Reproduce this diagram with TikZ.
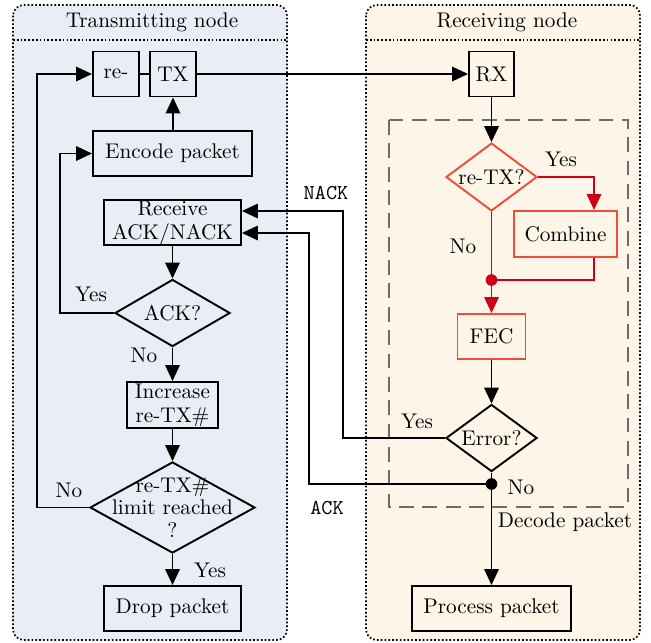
\documentclass[tikz,border=0pt]{standalone}
\usetikzlibrary{shapes.geometric,arrows.meta}
\definecolor{txfill}{RGB}{233,237,246}
\definecolor{rxfill}{RGB}{253,245,232}
\definecolor{redline}{RGB}{208,0,27}
\definecolor{redbox}{RGB}{240,76,56}
\begin{document}
\begin{tikzpicture}[x=0.471pt,y=-0.471pt,
  panel/.style={draw,densely dotted,line width=0.8pt,rounded corners=5pt},
  sep/.style={densely dotted,line width=0.8pt},
  box/.style={draw,line width=0.9pt,rectangle,inner sep=0pt,minimum height=21.2pt},
  rbox/.style={box,draw=redbox},
  dia/.style={draw,line width=0.9pt,diamond,inner sep=0pt},
  rdia/.style={dia,draw=redbox},
  arr/.style={line width=0.9pt,-{Triangle[length=7.5pt,width=6.8pt]}},
  rarr/.style={arr,draw=redline,color=redline},
  ln/.style={line width=0.9pt},
  rln/.style={ln,draw=redline},
  lab/.style={font=\normalsize},
  ttlab/.style={font=\ttfamily},
  dot/.style={circle,fill,inner sep=0pt,minimum size=5.5pt},
  ml/.style={align=center,font=\fontsize{10}{11.3}\selectfont}
]
\useasboundingbox (0,0) rectangle (651,642);
% panels
\path[panel,fill=txfill] (13,5) rectangle (287,640);
\draw[sep] (13,40) -- (287,40);
\node[lab] (ttitle) at (152,22) {Transmitting node};
\path[panel,fill=rxfill] (366,5) rectangle (640,640);
\draw[sep] (366,40) -- (640,40);
\node[lab] (rtitle) at (507,22) {Receiving node};
% dashed region
\draw[dashed,gray!85!black,line width=0.7pt,dash pattern=on 7pt off 4pt] (389,120) rectangle (628,507);
\node[lab] (decl) at (565,522) {Decode packet};

% left nodes
\node[box,minimum width=21.7pt] (re) at (116,74) {re-};
\node[box,minimum width=21.7pt] (tx) at (173,74) {TX};
\node[box,minimum width=74.9pt] (enc) at (172.5,153.5) {Encode packet};
\node[box,minimum width=64.5pt,ml] (recv) at (172.5,222.5) {Receive\\ACK/NACK};
\node[dia,minimum width=54.2pt,minimum height=31.6pt,label={[lab]center:ACK?}] (ack) at (172.5,313) {};
\node[box,minimum width=42.9pt,minimum height=21.7pt,ml] (inc) at (172.5,405) {Increase\\re-TX\#};
\node[dia,minimum width=77.7pt,minimum height=42.9pt] (lim) at (172.5,507.5) {};
\node[align=center,font=\fontsize{10}{10.6}\selectfont] (limt) at (lim.center) {re-TX\#\\limit reached\\?};
\node[box,minimum width=64.5pt] (drop) at (172.5,608.5) {Drop packet};

% right nodes
\node[box,minimum width=21.2pt] (rx) at (491.5,74) {RX};
\node[rdia,minimum width=42.9pt,minimum height=32pt,label={[lab]center:re-TX?}] (retx) at (491.5,177) {};
\node[rbox,minimum width=48.5pt,minimum height=21.7pt] (comb) at (565.5,234) {Combine};
\node[rbox,minimum width=32pt,minimum height=21.2pt] (fec) at (491.5,336.5) {FEC};
\node[dia,minimum width=42.9pt,minimum height=31.6pt,label={[lab]center:Error?}] (err) at (491.5,438) {};
\node[box,minimum width=74.9pt] (proc) at (491.5,608.5) {Process packet};
\node[dot,redline] (rdot) at (491.5,280) {};
\node[dot] (bdot) at (491.5,484) {};

% coordinates
\coordinate (c1) at (37,74);
\coordinate (c2) at (37,507.5);
\coordinate (c3) at (60,313);
\coordinate (c4) at (60,153.5);
\coordinate (c5) at (343,438);
\coordinate (c6) at (343,211);
\coordinate (c7) at (309,484);
\coordinate (c8) at (309,233);
\coordinate (c9) at (594,177);
\coordinate (c10) at (594,280);

% left connectors
\draw[ln] (re.east) -- (tx.west);
\draw[arr] (enc.north -| tx) -- (tx.south);
\draw[arr] (recv) -- (ack.north);
\draw[arr] (ack.south) -- (inc.north);
\draw[arr] (inc.south) -- (lim.north);
\draw[arr] (lim.south) -- (drop.north);
\draw[arr] (lim.west) -- (c2) -- (c1) -- (re.west);
\draw[arr] (ack.west) -- (c3) -- (c4) -- (enc.west);
\node[lab] (lno) at (69,490) {No};
\node[lab] (lyes) at (91,294) {Yes};
\node[lab] (ano) at (144,355) {No};
\node[lab] (lyes2) at (210,570) {Yes};

% cross connectors
\draw[arr] (tx.east) -- (rx.west);
\draw[arr] (err.west) -- (c5) -- (c6) -- (recv.east |- c6);
\draw[arr] (bdot.center) -- (c7) -- (c8) -- (recv.east |- c8);
\node[ttlab] (nack) at (326,193) {NACK};
\node[ttlab] (ackl) at (327,508) {ACK};
\node[lab] (eyes) at (417,421) {Yes};
\node[lab] (eno) at (521,487) {No};

% right connectors
\draw[arr] (rx.south) -- (retx.north);
\draw[rarr] (retx.east) -- (c9) -- (comb.north -| c9);
\draw[rln] (comb.south -| c9) -- (c10) -- (rdot.center);
\draw[rln] (retx.south) -- (rdot.center);
\draw[rarr] (rdot.center) -- (fec.north);
\node[lab] (ryes) at (561,159) {Yes};
\node[lab] (rno) at (463,246) {No};
\draw[arr] (fec.south) -- (err.north);
\draw[ln] (err.south) -- (bdot.center);
\draw[arr] (bdot.center) -- (proc.north);
\end{tikzpicture}
\end{document}
